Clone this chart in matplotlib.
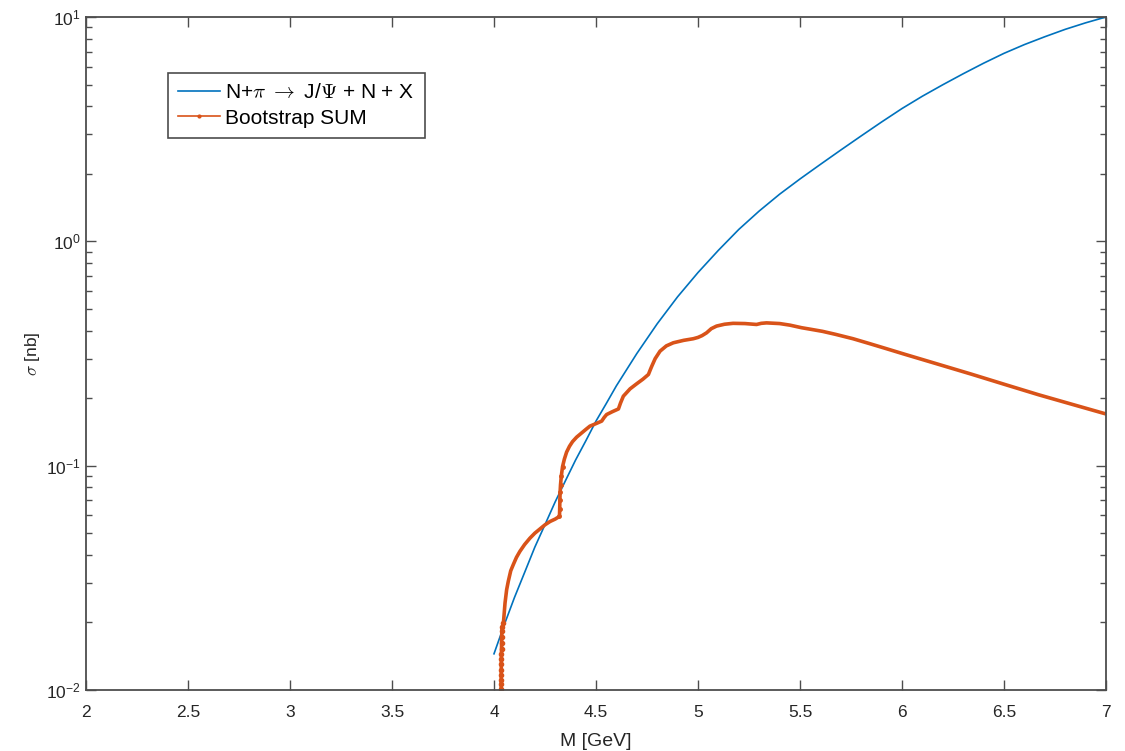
import matplotlib
matplotlib.use("Agg")
import matplotlib.pyplot as plt
from matplotlib.lines import Line2D
from matplotlib.ticker import LogLocator, MultipleLocator, FormatStrFormatter

plt.rcParams['font.family'] = ['Liberation Sans', 'DejaVu Sans']
plt.rcParams['mathtext.fontset'] = 'cm'

# N + pi -> J/Psi + N + X
m_pion = [4.0, 4.05, 4.1, 4.15, 4.2, 4.25, 4.3, 4.35, 4.4, 4.45, 4.5, 4.55,
          4.6, 4.7, 4.8, 4.9, 5.0, 5.1, 5.2, 5.3, 5.4, 5.5, 5.6, 5.7, 5.8,
          5.9, 6.0, 6.1, 6.2, 6.3, 6.4, 6.5, 6.6, 6.7, 6.8, 6.9, 7.0]
sig_pion = [0.0145, 0.0195, 0.0258, 0.0334, 0.0433, 0.0546, 0.0690, 0.0856,
            0.106, 0.129, 0.158, 0.189, 0.227, 0.316, 0.429, 0.566, 0.726,
            0.912, 1.130, 1.365, 1.622, 1.897, 2.203, 2.553, 2.951, 3.404,
            3.908, 4.436, 4.989, 5.585, 6.223, 6.887, 7.534, 8.166, 8.810,
            9.419, 10.0]

# Bootstrap SUM
m_boot = [4.0350, 4.0351, 4.0352, 4.0354, 4.0356, 4.0358, 4.0361, 4.0364,
          4.0368, 4.0373, 4.0379, 4.0386, 4.0395, 4.046, 4.054, 4.062, 4.070,
          4.082, 4.095, 4.110, 4.127, 4.150, 4.176, 4.200, 4.225, 4.250,
          4.275, 4.300, 4.321, 4.322, 4.323, 4.324, 4.326, 4.330, 4.336,
          4.345, 4.356, 4.370, 4.385, 4.405, 4.430, 4.450, 4.470, 4.500,
          4.528, 4.540, 4.552, 4.580, 4.610, 4.620, 4.634, 4.667, 4.700,
          4.730, 4.757, 4.765, 4.773, 4.790, 4.814, 4.845, 4.879, 4.930,
          4.977, 5.000, 5.020, 5.042, 5.065, 5.091, 5.130, 5.172, 5.230,
          5.287, 5.310, 5.336, 5.400, 5.451, 5.508, 5.549, 5.610, 5.674,
          5.760, 5.841, 5.920, 6.007, 6.173, 6.339, 6.505, 6.670, 6.840, 7.0]
sig_boot = [0.0101, 0.0106, 0.0111, 0.0117, 0.0123, 0.0130, 0.0137, 0.0145,
            0.0153, 0.0162, 0.0172, 0.0183, 0.0191, 0.0198, 0.0244, 0.0280,
            0.0305, 0.0340, 0.0363, 0.0390, 0.0415, 0.0445, 0.0475, 0.0500,
            0.0522, 0.0545, 0.0564, 0.0578, 0.0594, 0.0640, 0.0700, 0.0760,
            0.0820, 0.0900, 0.0990, 0.107, 0.115, 0.122, 0.128, 0.134, 0.140,
            0.145, 0.150, 0.154, 0.158, 0.164, 0.169, 0.174, 0.179, 0.190,
            0.204, 0.220, 0.232, 0.243, 0.255, 0.266, 0.277, 0.300, 0.324,
            0.342, 0.353, 0.362, 0.368, 0.373, 0.380, 0.391, 0.408, 0.419,
            0.427, 0.431, 0.430, 0.426, 0.431, 0.433, 0.430, 0.423, 0.412,
            0.406, 0.397, 0.385, 0.368, 0.350, 0.333, 0.315, 0.284, 0.256,
            0.230, 0.207, 0.187, 0.170]
n_thr = 13      # threshold points drawn with visible markers
jump = (28, 35)  # vertical step near 4.32

blue = '#0072BD'
orange = '#D95319'
axcol = '#4d4d4d'

fig = plt.figure(figsize=(11.25, 7.51), dpi=100)
ax = fig.add_axes([86 / 1125, 1 - 690 / 751, 1020 / 1125, 673 / 751])

ax.semilogy(m_pion, sig_pion, color=blue, lw=1.2)
ax.semilogy(m_boot, sig_boot, color=orange, lw=2.6, solid_capstyle='butt')
ax.semilogy(m_boot[:n_thr + 1], sig_boot[:n_thr + 1], ls='none', marker='.',
            ms=6, color=orange)
ax.semilogy(m_boot[jump[0]:jump[1]], sig_boot[jump[0]:jump[1]], ls='none',
            marker='.', ms=5, color=orange)

ax.set_xlim(2, 7)
ax.set_ylim(1e-2, 1e1)
ax.xaxis.set_major_locator(MultipleLocator(0.5))
ax.xaxis.set_major_formatter(FormatStrFormatter('%g'))
ax.yaxis.set_major_locator(LogLocator(base=10, numticks=10))
ax.yaxis.set_minor_locator(LogLocator(base=10, subs=range(2, 10), numticks=20))
ax.tick_params(which='both', direction='in', top=True, right=True,
               colors=axcol, labelcolor='#262626', labelsize=12.5)
ax.tick_params(which='major', length=7, width=1.0)
ax.tick_params(which='minor', length=4, width=1.0)
ax.tick_params(axis='x', pad=11)
ax.tick_params(axis='y', pad=4)
for s in ax.spines.values():
    s.set_color(axcol)
    s.set_linewidth(1.3)

ax.set_xlabel('M [GeV]', fontsize=14, color='#262626', labelpad=9)
ax.set_ylabel(r'$\sigma$ [nb]', fontsize=12.5, color='#262626', labelpad=3)

handles = [Line2D([], [], color=blue, lw=1.2),
           Line2D([], [], color=orange, lw=1.2, marker='.', ms=4)]
labels = [r'N+$\pi$ $\rightarrow$ J/$\Psi$ + N + X', 'Bootstrap SUM']
leg = ax.legend(handles, labels, loc='upper left',
                bbox_to_anchor=(0.0804, 0.9168), borderaxespad=0,
                fontsize=15, fancybox=False, framealpha=1, edgecolor=axcol,
                handlelength=2.0, borderpad=0.5, labelspacing=0.3,
                handletextpad=0.25)
leg.get_frame().set_linewidth(1.2)

fig.savefig('out.png', dpi=100)
